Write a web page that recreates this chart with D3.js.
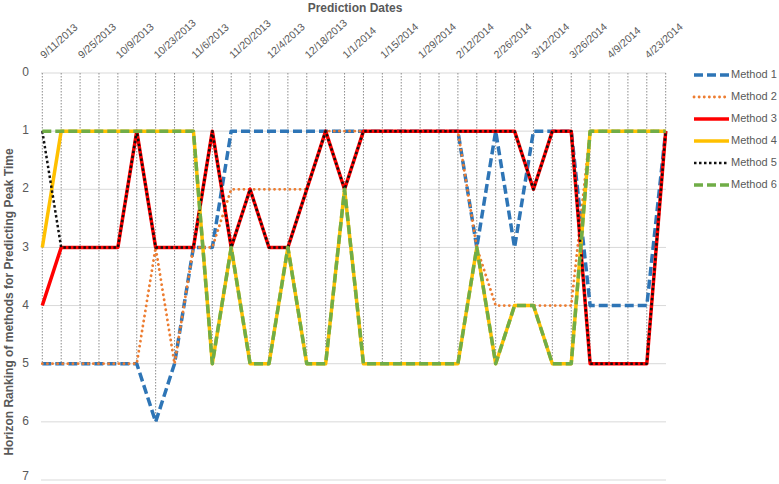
<!DOCTYPE html>
<html>
<head>
<meta charset="utf-8">
<script src="https://cdn.jsdelivr.net/npm/d3@7"></script>
<style>
  body { margin: 0; background: #fff; }
  text { font-family: "Liberation Sans", Arial, sans-serif; fill: #595959; }
</style>
</head>
<body>
<div id="grafico"></div>
<script>
// fechas de prediccion (semanales)
const fechas = ["9/11/2013","9/18/2013","9/25/2013","10/2/2013","10/9/2013","10/16/2013","10/23/2013","10/30/2013",
  "11/6/2013","11/13/2013","11/20/2013","11/27/2013","12/4/2013","12/11/2013","12/18/2013","12/25/2013",
  "1/1/2014","1/8/2014","1/15/2014","1/22/2014","1/29/2014","2/5/2014","2/12/2014","2/19/2014",
  "2/26/2014","3/5/2014","3/12/2014","3/19/2014","3/26/2014","4/2/2014","4/9/2014","4/16/2014",
  "4/23/2014","4/30/2014"];

const metodo1 = [5,5,5,5,5,5,6,5,3,3,1,1,1,1,1,1,1,1,1,1,1,1,1,3,1,3,1,1,1,4,4,4,4,1];
const metodo2 = [5,5,5,5,5,5,3,5,3,3,2,2,2,2,2,1,1,1,1,1,1,1,1,3,4,4,4,4,4,1,1,1,1,1];
const metodo3 = [4,3,3,3,3,1,3,3,3,1,3,2,3,3,2,1,2,1,1,1,1,1,1,1,1,1,2,1,1,5,5,5,5,1];
const metodo4 = [3,1,1,1,1,1,1,1,1,5,3,5,5,3,5,5,2,5,5,5,5,5,5,3,5,4,4,5,5,1,1,1,1,1];
const metodo5 = [1,3,3,3,3,1,3,3,3,1,3,2,3,3,2,1,2,1,1,1,1,1,1,1,1,1,2,1,1,5,5,5,5,1];
const metodo6 = [1,1,1,1,1,1,1,1,1,5,3,5,5,3,5,5,2,5,5,5,5,5,5,3,5,4,4,5,5,1,1,1,1,1];

const nombres = ["Method 1","Method 2","Method 3","Method 4","Method 5","Method 6"];
const rangos = [0,1,2,3,4,5,6,7];

const ancho = 779;
const largo = 484;

// estilo de cada serie
const estilos = [
  { color: "#2E75B6", grosor: 3.5, guiones: "9,4", cap: "butt" },
  { color: "#ED7D31", grosor: 2.8, guiones: "0.1,5", cap: "round" },
  { color: "#FF0000", grosor: 3.5, guiones: null, cap: "butt" },
  { color: "#FFC000", grosor: 3.5, guiones: null, cap: "butt" },
  { color: "#111111", grosor: 2.5, guiones: "2.5,2.5", cap: "butt" },
  { color: "#70AD47", grosor: 3.5, guiones: "9,4", cap: "butt" }
];

const series = [metodo1, metodo2, metodo3, metodo4, metodo5, metodo6];

const svg = d3.select("#grafico")
  .append("svg")
  .attr("width", ancho)
  .attr("height", largo);

const x = d3.scalePoint().domain(fechas).range([42.3, 665.7]);
const y = d3.scaleLinear().domain([0, 7]).range([73, 480]);

// lineas horizontales de la grilla
svg.selectAll("line.grilla")
  .data(rangos)
  .enter().append("line")
  .attr("class", "grilla")
  .attr("x1", 41)
  .attr("x2", 666)
  .attr("y1", d => y(d))
  .attr("y2", d => y(d))
  .attr("stroke", "#d9d9d9")
  .attr("stroke-width", 1);

// lineas verticales (drop lines) hasta el punto mas bajo
svg.selectAll("line.caida")
  .data(fechas)
  .enter().append("line")
  .attr("class", "caida")
  .attr("x1", d => x(d))
  .attr("x2", d => x(d))
  .attr("y1", y(0))
  .attr("y2", (d, i) => y(d3.max(series, s => s[i])))
  .attr("stroke", "#8c8c8c")
  .attr("stroke-width", 1)
  .attr("stroke-dasharray", "1.5,1.5");

// etiquetas del eje y
svg.selectAll("text.rango")
  .data(rangos)
  .enter().append("text")
  .attr("class", "rango")
  .attr("x", 29)
  .attr("y", d => Math.min(y(d), 477))
  .attr("text-anchor", "end")
  .attr("dominant-baseline", "middle")
  .attr("font-size", 12)
  .text(d => d);

// etiquetas de fechas (una de cada dos)
svg.selectAll("text.fecha")
  .data(fechas.filter((d, i) => i % 2 === 0))
  .enter().append("text")
  .attr("class", "fecha")
  .attr("transform", d => `translate(${x(d) + 2},${59}) rotate(-42)`)
  .attr("text-anchor", "start")
  .attr("font-size", 10.5)
  .text(d => d);

// titulos
svg.append("text")
  .attr("x", 355)
  .attr("y", 12)
  .attr("text-anchor", "middle")
  .attr("font-size", 12)
  .attr("font-weight", "bold")
  .text("Prediction Dates");

svg.append("text")
  .attr("transform", "translate(13,302) rotate(-90)")
  .attr("text-anchor", "middle")
  .attr("font-size", 12)
  .attr("font-weight", "bold")
  .text("Horizon Ranking of methods  for Predicting Peak Time");

// series
const linea = d3.line()
  .x((d, i) => x(fechas[i]))
  .y(d => y(d));

series.forEach((s, k) => {
  const e = estilos[k];
  svg.append("path")
    .datum(s)
    .attr("d", linea)
    .attr("fill", "none")
    .attr("stroke", e.color)
    .attr("stroke-width", e.grosor)
    .attr("stroke-linecap", e.cap)
    .attr("stroke-linejoin", "round")
    .attr("stroke-dasharray", e.guiones);
});

// leyenda
const leyenda = svg.selectAll("g.leyenda")
  .data(nombres)
  .enter().append("g")
  .attr("class", "leyenda")
  .attr("transform", (d, i) => `translate(694,${75 + i * 22})`);

leyenda.append("line")
  .attr("x1", 0)
  .attr("x2", 35)
  .attr("y1", 0)
  .attr("y2", 0)
  .attr("stroke", (d, i) => estilos[i].color)
  .attr("stroke-width", (d, i) => estilos[i].grosor)
  .attr("stroke-linecap", (d, i) => estilos[i].cap)
  .attr("stroke-dasharray", (d, i) => estilos[i].guiones);

leyenda.append("text")
  .attr("x", 37)
  .attr("y", 0)
  .attr("dominant-baseline", "middle")
  .attr("font-size", 11)
  .text(d => d);
</script>
</body>
</html>
